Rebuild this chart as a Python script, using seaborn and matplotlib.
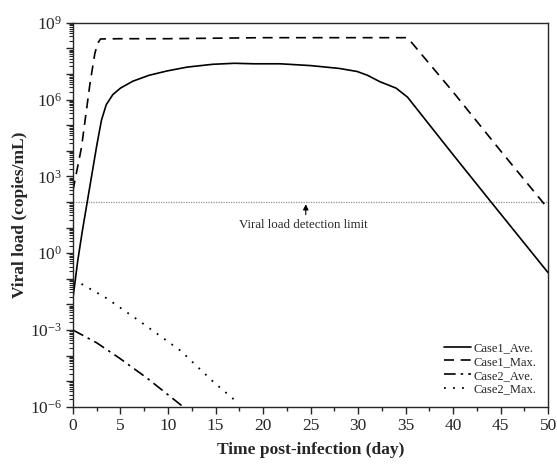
import numpy as np
import pandas as pd
import matplotlib
matplotlib.use("Agg")
import matplotlib.pyplot as plt
import matplotlib.ticker as mticker
import seaborn as sns

# Data (day, log10 viral load)
case1_ave_day = [0, 0.5, 1.0, 1.5, 2.0, 2.5, 3.0, 3.5, 4.2, 5.0, 6.3, 8.0, 9.9, 12.0, 14.7, 17.0, 19.0, 21.8, 25.0, 28.0, 29.9, 31.0, 32.3, 34.0, 35.2, 40.0, 44.0, 50.0]
case1_ave_log = [-1.75, -0.3, 0.9, 2.0, 3.1, 4.2, 5.2, 5.8, 6.2, 6.45, 6.72, 6.95, 7.12, 7.27, 7.38, 7.42, 7.4, 7.4, 7.33, 7.22, 7.1, 6.95, 6.7, 6.45, 6.1, 3.85, 2.0, -0.76]

case1_max_day = [0, 0.9, 1.8, 2.3, 2.6, 2.9, 5.0, 10.0, 15.0, 20.0, 25.0, 30.0, 35.0, 35.3, 40.0, 45.0, 50.0]
case1_max_log = [2.45, 4.14, 6.65, 7.8, 8.2, 8.37, 8.38, 8.38, 8.4, 8.42, 8.42, 8.42, 8.42, 8.38, 6.3, 4.0, 1.74]

case2_ave_day = [0, 2.5, 4.9, 7.8, 11.6]
case2_ave_log = [-3.0, -3.5, -4.1, -4.88, -6.0]

case2_max_day = [0.9, 3.5, 7.0, 11.3, 14.7, 17.4]
case2_max_log = [-1.2, -1.75, -2.65, -3.8, -5.0, -5.86]

detection_limit = 100.0
labels = ["Case1_Ave.", "Case1_Max.", "Case2_Ave.", "Case2_Max."]


def build_frame():
    rows = []
    for name, d, v in zip(labels,
                          [case1_ave_day, case1_max_day, case2_ave_day, case2_max_day],
                          [case1_ave_log, case1_max_log, case2_ave_log, case2_max_log]):
        for x, y in zip(d, v):
            rows.append({"day": x, "load": 10.0 ** y, "case": name})
    return pd.DataFrame(rows)


def main():
    sns.set_style("ticks")
    plt.rcParams["font.family"] = ["Liberation Serif", "DejaVu Serif"]
    plt.rcParams["mathtext.fontset"] = "custom"
    plt.rcParams["mathtext.rm"] = "Liberation Serif"
    plt.rcParams["mathtext.it"] = "Liberation Serif:italic"

    df = build_frame()
    fig = plt.figure(figsize=(5.57, 4.66), dpi=100)
    ax = fig.add_axes([0.131, 0.127, 0.853, 0.824])

    styles = {
        "Case1_Ave.": dict(ls="-", lw=1.2),
        "Case1_Max.": dict(ls=(0, (6, 4)), lw=1.2),
        "Case2_Ave.": dict(ls=(0, (7, 3, 1.5, 3)), lw=1.2),
        "Case2_Max.": dict(ls=(0, (1, 4)), lw=1.3),
    }
    for name in labels:
        sub = df[df["case"] == name]
        sns.lineplot(data=sub, x="day", y="load", ax=ax, color="black",
                     label=name, estimator=None, sort=False, **styles[name])

    ax.axhline(detection_limit, color="#909090", lw=0.9, ls=(0, (1, 1)), zorder=1)
    ax.annotate("", xy=(24.5, detection_limit * 1.05), xytext=(24.5, 25),
                arrowprops=dict(arrowstyle="-|>", color="black", lw=0.8,
                                mutation_scale=8))
    ax.text(24.2, 13, "Viral load detection limit", ha="center", va="center",
            fontsize=9.3)

    ax.set_yscale("log")
    ax.set_xlim(0, 50)
    ax.set_ylim(1e-6, 1e9)
    ax.xaxis.set_major_locator(mticker.MultipleLocator(5))
    ax.xaxis.set_minor_locator(mticker.MultipleLocator(2.5))
    ax.yaxis.set_major_locator(mticker.FixedLocator([10.0 ** k for k in range(-6, 10)]))
    ax.yaxis.set_major_formatter(mticker.FuncFormatter(
        lambda v, p: r"$\mathregular{10^{%d}}$" % round(np.log10(v)) if round(np.log10(v)) % 3 == 0 else ""))
    ax.yaxis.set_minor_locator(mticker.LogLocator(base=10, subs=np.arange(2, 10), numticks=100))
    ax.yaxis.set_minor_formatter(mticker.NullFormatter())

    ax.tick_params(axis="both", which="major", direction="out", length=5, width=1.0,
                   labelsize=12.5, top=False, right=False, pad=3)
    ax.tick_params(axis="x", which="minor", direction="out", length=3, width=1.0)
    ax.tick_params(axis="y", which="minor", direction="out", length=3, width=0.8)
    for s in ax.spines.values():
        s.set_linewidth(1.0)
        s.set_visible(True)

    ax.set_xlabel("Time post-infection (day)", fontsize=12.5, fontweight="bold", labelpad=6)
    ax.set_ylabel("Viral load (copies/mL)", fontsize=12.5, fontweight="bold", labelpad=1)

    ax.legend(loc="lower right", frameon=False, fontsize=9, handlelength=2.2,
              handletextpad=0.2, labelspacing=0.15, borderaxespad=0.5)

    fig.savefig("out.png", dpi=100)


if __name__ == "__main__":
    main()
